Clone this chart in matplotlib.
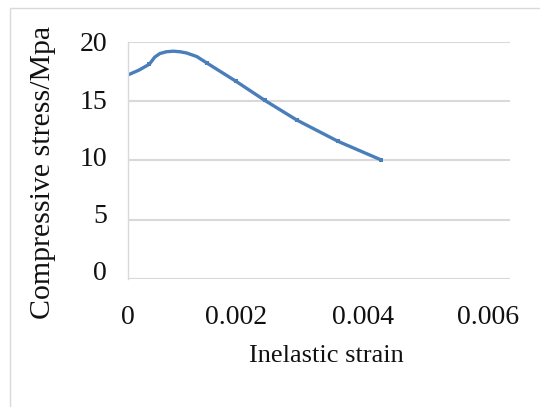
import matplotlib
matplotlib.use("Agg")
import matplotlib.pyplot as plt
from matplotlib.patches import Rectangle
from matplotlib.transforms import ScaledTranslation

# data
strain = [0.0, 0.00017, 0.000335, 0.00042, 0.0005, 0.0006, 0.00071, 0.00082, 0.00092,
          0.00108, 0.00124, 0.0017, 0.00215, 0.00265, 0.0033, 0.00397]
stress = [17.2, 17.6, 18.1, 18.7, 19.0, 19.15, 19.2, 19.15, 19.05,
          18.75, 18.2, 16.65, 15.05, 13.4, 11.6, 10.05]
marked = [2, 10, 11, 12, 13, 14, 15]  # indices of the visible data markers
xticks = [0, 0.002, 0.004, 0.006]
xtick_labels = ["0", "0.002", "0.004", "0.006"]
yticks = [0, 5, 10, 15, 20]
ylabels = ["0", "5", "10", "15", "20"]

plt.rcParams['font.family'] = ['Liberation Serif', 'DejaVu Serif']

fig = plt.figure(figsize=(5.4, 4.07), dpi=100)
fig.patch.set_facecolor('white')
fig.add_artist(Rectangle((10/540, -0.05), 1.1, 1 - 8/407 + 0.05, transform=fig.transFigure,
                         fill=False, edgecolor='#d9d9d9', linewidth=1.0))

ax = fig.add_axes([128/540, 1 - 279/407, (510-128)/540, (279-41.7)/407])
ax.plot(strain, stress, color='#4a7ebb', linewidth=2.4, solid_capstyle='round',
        solid_joinstyle='round', marker='s', markersize=3, markeredgewidth=0, markevery=marked)
ax.set_xlim(0, 0.006)
ax.set_ylim(0, 20)
ax.set_xticks(xticks)
ax.set_xticklabels(xtick_labels)
ax.set_yticks(yticks)
ax.set_yticklabels(ylabels)
ax.grid(axis='y', color='#d9d9d9', linewidth=1.5)
ax.set_axisbelow(True)
for s in ['top', 'right', 'bottom']:
    ax.spines[s].set_visible(False)
ax.spines['left'].set_color('#d9d9d9')
ax.spines['left'].set_linewidth(1.0)
ax.tick_params(length=0, labelsize=20, colors='#111111')
ax.tick_params(axis='y', pad=15)
ax.tick_params(axis='x', pad=19)

# label offsets as in the reference rendering
for lab, dx in zip(ax.get_xticklabels(), [0, -19, -19.5, -22]):
    lab.set_transform(lab.get_transform() + ScaledTranslation(dx/100, 0, fig.dpi_scale_trans))
for lab, v in zip(ax.get_yticklabels(), yticks):
    dy = 8 * (20 - v) / 20
    lab.set_transform(lab.get_transform() + ScaledTranslation(0, dy/100, fig.dpi_scale_trans))

ax.set_xlabel('Inelastic strain', fontsize=19, color='#111111')
ax.xaxis.set_label_coords(326/540, 1 - 356/407, transform=fig.transFigure)
ax.xaxis.label.set_verticalalignment('center')
ax.set_ylabel('Compressive stress/Mpa', fontsize=21.5, color='#111111')
ax.yaxis.set_label_coords(43/540, 1 - 172/407, transform=fig.transFigure)
ax.yaxis.label.set_horizontalalignment('center')
ax.yaxis.label.set_verticalalignment('center')

fig.savefig('out.png', dpi=100, facecolor='white')
